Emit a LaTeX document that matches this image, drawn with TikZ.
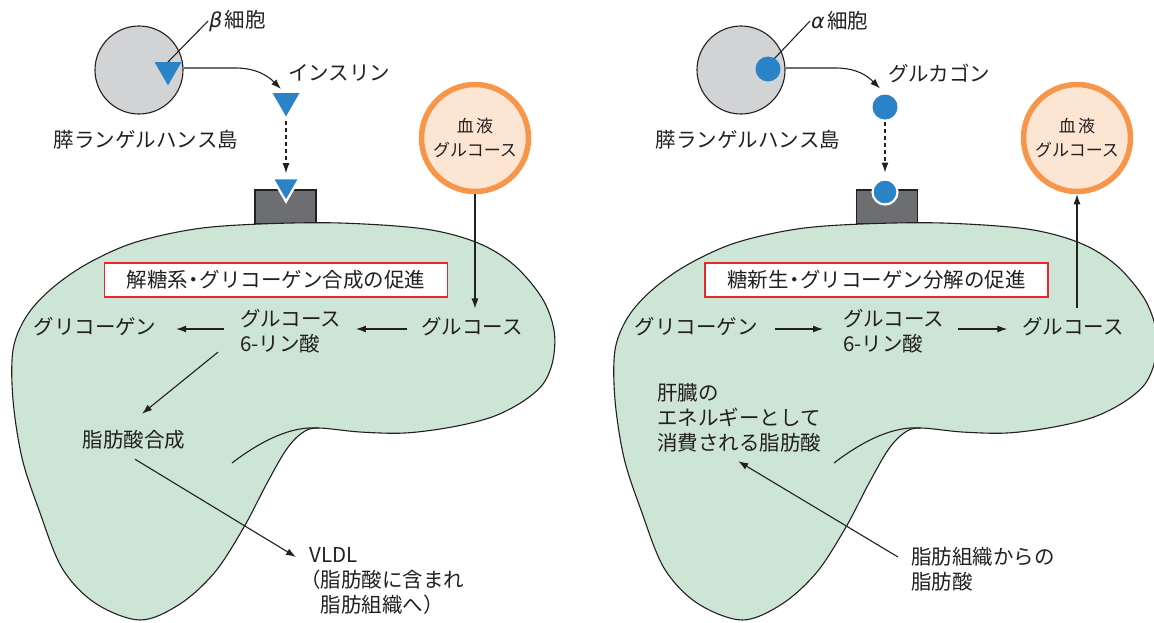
\documentclass[tikz,border=0pt]{standalone}
\usepackage{fontspec}
\setmainfont{Noto Sans CJK JP}
\newfontfamily\greekit[FakeSlant=0.2]{DejaVu Sans}
\usetikzlibrary{arrows.meta,shapes.geometric,calc}

\definecolor{liverfill}{RGB}{205,229,212}
\definecolor{isletgray}{RGB}{209,211,212}
\definecolor{recgray}{RGB}{109,110,113}
\definecolor{hormblue}{RGB}{42,131,198}
\definecolor{bloodring}{RGB}{247,150,74}
\definecolor{bloodfill}{RGB}{253,229,211}
\definecolor{boxred}{RGB}{232,38,46}
\definecolor{ink}{RGB}{35,31,32}

\newcommand\nakaguro{\kern-0.22em・\kern-0.22em}

\tikzset{lbl/.style={inner sep=0pt,text=ink,font=\fontsize{20.5}{25}\selectfont,align=left},
  arr/.style={draw=ink,line width=1.1pt,-{Latex[length=10pt,width=7pt]}},
  islet/.style={circle,draw=ink,line width=1.1pt,fill=isletgray,minimum size=88pt,inner sep=0pt},
  insul/.style={regular polygon,regular polygon sides=3,shape border rotate=180,
                fill=hormblue,minimum size=31.2pt,inner sep=0pt,outer sep=0pt},
  gluc/.style={circle,fill=hormblue,minimum size=25pt,inner sep=0pt,outer sep=0pt},
  rec/.style={rectangle,draw=ink,line width=1.1pt,fill=recgray,minimum width=61pt,minimum height=34pt},
  blood/.style={circle,draw=bloodring,line width=5.5pt,fill=bloodfill,minimum size=107pt,inner sep=0pt,
                text=ink,align=center,font=\fontsize{17}{24}\selectfont},
  stage/.style={rectangle,draw=boxred,line width=1.3pt,fill=white,minimum width=343pt,minimum height=34pt,
                inner sep=0pt,text=ink,font=\fontsize{20.5}{25}\selectfont}}

% liver outline with its fold, #1 = horizontal offset
\newcommand\liver[1]{%
  \draw[xshift=#1,draw=ink,line width=1.1pt,fill=liverfill]
    plot[smooth cycle,tension=0.55] coordinates {
      (318,428) (360,432) (405,433) (452,427) (492,417) (522,402) (543,384) (553,360)
      (554,330) (542,298) (514,265) (478,243) (425,229) (340,223) (260,224) (195,229)
      (133,243) (85,265) (50,290) (26,317) (13,350) (13,400) (22,458) (39,510) (62,568)
      (95,603) (140,620) (180,604) (215,572) (244,527) (266,485) (286,450) (302,433)};
  \draw[xshift=#1,draw=ink,line width=1.1pt] (232,463) .. controls (262,440) and (292,426) .. (318,428);}

\begin{document}
\begin{tikzpicture}[x=1pt,y=-1pt]
\useasboundingbox (0,0) rectangle (1154,622);

% receptors sit on top of the liver
\node[rec] (recL) at (285.5,207) {};
\node[rec] (recR) at (887,207) {};
\liver{0pt}
\liver{602pt}

% ---- insulin side ----
\node[islet] (isletL) at (139,70) {};
\node[lbl,anchor=west] (betaLbl) at (208,21) {{\greekit β}\,細胞};
\draw[draw=ink,line width=1.1pt] (betaLbl.west) -- (168,62);
\node[insul] (betaCell) at (168,69.8) {};
\node[lbl] (isletLbl) at (146,140) {膵ランゲルハンス島};
\node[insul] (ins) at (286,100.8) {};
\node[lbl,anchor=west] (insLbl) at (288,73) {インスリン};
\node[insul,draw=white,line width=2.2pt] (insBound) at (286,186) {};
\node[blood] (bloodL) at (475,138) {血\kern0.12em 液\\グルコース};
\node[stage] (stageL) at (276,280) {解糖系\nakaguro グリコーゲン合成の促進};
\node[lbl] (glycL) at (95,327) {グリコーゲン};
\node[lbl,anchor=west] (g6pL) at (240,331) {グルコース\\6-リン酸};
\node[lbl] (gluL) at (472,327) {グルコース};
\node[lbl] (fasyn) at (134,440) {脂肪酸合成};
\node[lbl,anchor=north west] (vldl) at (300,547) {\hspace*{0.45em}VLDL\\（脂肪酸に含まれ\\\hspace*{1em}脂肪組織へ）};

\draw[arr] ($(isletL.east)+(0,-2)$) -- ++(52,0) .. controls +(22,0) and +(-12,-12) .. ($(ins.north)+(-5,-4)$);
\draw[arr,dash pattern=on 4pt off 3pt] ($(ins.south)+(0,5)$) -- ($(insBound.north)+(0,-5)$);
\draw[arr] (bloodL.south) -- ($(bloodL.south |- gluL.north)+(0,-9)$);
\draw[arr] ($(gluL.west)+(-14,2)$) -- ($(g6pL.east)+(14.5,-2)$);
\draw[arr] ($(g6pL.west)+(-16,-2)$) -- ($(glycL.east)+(19.5,2)$);
\draw[arr] ($(g6pL.south west)+(-22,-1)$) -- ($(fasyn.north)+(8,-16.5)$);
\draw[arr] ($(fasyn.south)+(1,9.5)$) -- ($(vldl.north west)+(-4,10)$);

% ---- glucagon side ----
\node[islet] (isletR) at (741,70) {};
\node[lbl,anchor=west] (alphaLbl) at (810,21) {{\greekit α}\,細胞};
\draw[draw=ink,line width=1.1pt] (alphaLbl.west) -- (774,59);
\node[gluc] (alphaCell) at (768,69) {};
\node[lbl] (isletLbl2) at (748,140) {膵ランゲルハンス島};
\node[gluc] (glg) at (885,107) {};
\node[lbl,anchor=west] (glgLbl) at (888,73) {グルカゴン};
\node[gluc,draw=white,line width=2.2pt] (glgBound) at (885,192) {};
\node[blood] (bloodR) at (1077,138) {血\kern0.12em 液\\グルコース};
\node[stage] (stageR) at (876.5,280) {糖新生\nakaguro グリコーゲン分解の促進};
\node[lbl] (glycR) at (696,327) {グリコーゲン};
\node[lbl,anchor=west] (g6pR) at (843,331) {グルコース\\6-リン酸};
\node[lbl] (gluR) at (1073,327) {グルコース};
\node[lbl,anchor=north west] (liverFA) at (657,383) {肝臓の\\エネルギーとして\\消費される脂肪酸};
\node[lbl,anchor=north west] (adipFA) at (911,547) {脂肪組織からの\\脂肪酸};

\draw[arr] ($(isletR.east)+(0,-2)$) -- ++(50,0) .. controls +(22,0) and +(-12,-12) .. ($(glg.north)+(-5,-6)$);
\draw[arr,dash pattern=on 4pt off 3pt] ($(glg.south)+(0,2)$) -- ($(glgBound.north)+(0,-7)$);
\draw[arr] ($(bloodR.south |- gluR.north)+(0,-9)$) -- (bloodR.south);
\draw[arr] ($(glycR.east)+(17.5,2)$) -- ($(g6pR.west)+(-20,-2)$);
\draw[arr] ($(g6pR.east)+(13.5,-2)$) -- ($(gluR.west)+(-15,2)$);
\draw[arr] ($(adipFA.north west)+(-13,10)$) -- ($(liverFA.south)+(-1,9)$);
\end{tikzpicture}
\end{document}
